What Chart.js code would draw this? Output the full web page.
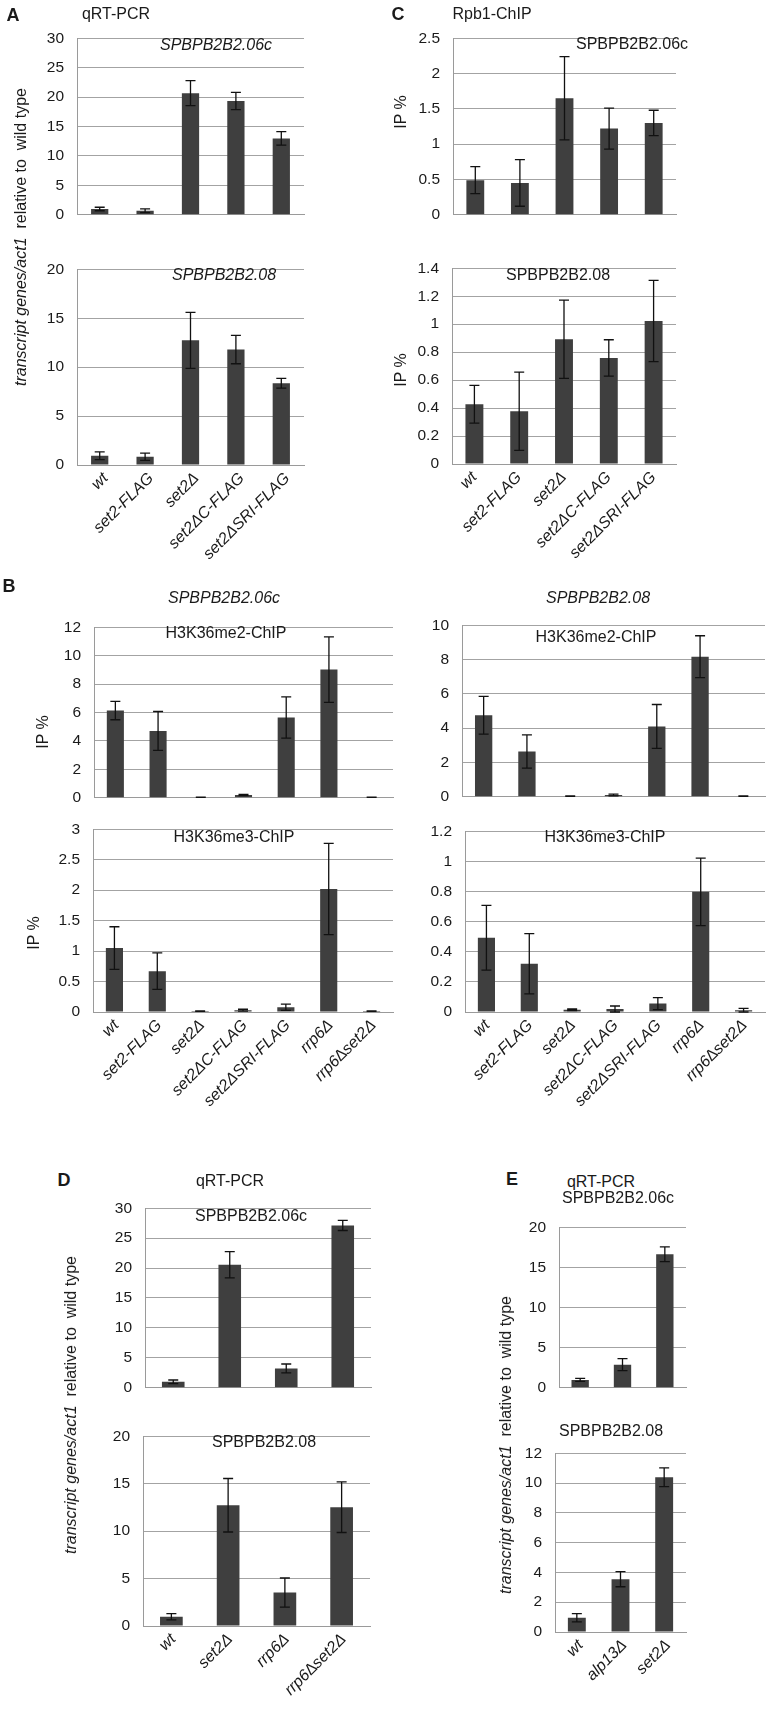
<!DOCTYPE html>
<html><head><meta charset="utf-8">
<script src="https://cdn.jsdelivr.net/npm/chart.js@4.4.0/dist/chart.umd.min.js"></script>
<style>
body{margin:0;background:#fff;}
#fig{position:relative;width:771px;height:1709px;overflow:hidden;font-family:'Liberation Sans',Arial,Helvetica,sans-serif;color:#1a1a1a;background:#fff;}
canvas{position:absolute;}
.t{position:absolute;transform:translate(-50%,-50%);white-space:pre;font-size:16px;line-height:1;z-index:3;}
.pl{font-weight:bold;font-size:18px;}
.it{font-style:italic;}
.v{transform:translate(-50%,-50%) rotate(-90deg);font-size:16px;}
</style></head><body><div id="fig">
<div class="t pl" style="left:13px;top:15px">A</div>
<div class="t" style="left:116px;top:14px">qRT-PCR</div>
<div class="t it" style="left:216px;top:45px">SPBPB2B2.06c</div>
<div class="t it" style="left:224px;top:275px">SPBPB2B2.08</div>
<div class="t v" style="left:21px;top:237px"><i>transcript genes/act1</i>  relative to  wild type</div>

<div class="t pl" style="left:398px;top:14px">C</div>
<div class="t" style="left:492px;top:14px">Rpb1-ChIP</div>
<div class="t" style="left:632px;top:44px">SPBPB2B2.06c</div>
<div class="t" style="left:558px;top:275px">SPBPB2B2.08</div>
<div class="t v" style="left:401px;top:112px">IP %</div>
<div class="t v" style="left:401px;top:370px">IP %</div>

<div class="t pl" style="left:9px;top:586px">B</div>
<div class="t it" style="left:224px;top:598px">SPBPB2B2.06c</div>
<div class="t it" style="left:598px;top:598px">SPBPB2B2.08</div>
<div class="t" style="left:226px;top:633px">H3K36me2-ChIP</div>
<div class="t" style="left:596px;top:637px">H3K36me2-ChIP</div>
<div class="t" style="left:234px;top:837px">H3K36me3-ChIP</div>
<div class="t" style="left:605px;top:837px">H3K36me3-ChIP</div>
<div class="t v" style="left:43px;top:732px">IP %</div>
<div class="t v" style="left:34px;top:933px">IP %</div>

<div class="t pl" style="left:64px;top:1180px">D</div>
<div class="t" style="left:230px;top:1181px">qRT-PCR</div>
<div class="t" style="left:251px;top:1216px">SPBPB2B2.06c</div>
<div class="t" style="left:264px;top:1442px">SPBPB2B2.08</div>
<div class="t v" style="left:71px;top:1405px"><i>transcript genes/act1</i>  relative to  wild type</div>

<div class="t pl" style="left:512px;top:1179px">E</div>
<div class="t" style="left:601px;top:1182px">qRT-PCR</div>
<div class="t" style="left:618px;top:1198px">SPBPB2B2.06c</div>
<div class="t" style="left:611px;top:1431px">SPBPB2B2.08</div>
<div class="t v" style="left:506px;top:1445px"><i>transcript genes/act1</i>  relative to  wild type</div>
</div>
<script>
// ---------- categories ----------
const catsA = ['wt', 'set2-FLAG', 'set2Δ', 'set2ΔC-FLAG', 'set2ΔSRI-FLAG'];
const catsB = ['wt', 'set2-FLAG', 'set2Δ', 'set2ΔC-FLAG', 'set2ΔSRI-FLAG', 'rrp6Δ', 'rrp6∆set2Δ'];
const catsD = ['wt', 'set2Δ', 'rrp6Δ', 'rrp6∆set2Δ'];
const catsE = ['wt', 'alp13Δ', 'set2Δ'];

// ---------- values and error (SD) ----------
const valsA06 = [0.97, 0.67, 20.67, 19.33, 12.97];
const errA06  = [0.30, 0.31, 2.12, 1.46, 1.15];
const valsA08 = [0.94, 0.84, 12.74, 11.80, 8.36];
const errA08  = [0.40, 0.37, 2.86, 1.45, 0.50];

const valsC06 = [0.49, 0.45, 1.65, 1.22, 1.30];
const errC06  = [0.19, 0.33, 0.59, 0.29, 0.18];
const valsC08 = [0.427, 0.377, 0.893, 0.759, 1.023];
const errC08  = [0.135, 0.28, 0.28, 0.13, 0.29];

const valsBme2_06 = [6.14, 4.70, 0.03, 0.19, 5.65, 9.02, 0.03];
const errBme2_06  = [0.65, 1.37, 0.01, 0.05, 1.45, 2.30, 0.01];
const valsBme3_06 = [1.05, 0.67, 0.015, 0.03, 0.078, 2.02, 0.015];
const errBme3_06  = [0.35, 0.30, 0.005, 0.015, 0.05, 0.75, 0.005];
const valsBme2_08 = [4.75, 2.64, 0.03, 0.10, 4.10, 8.17, 0.03];
const errBme2_08  = [1.10, 0.97, 0.01, 0.05, 1.28, 1.22, 0.01];
const valsBme3_08 = [0.493, 0.32, 0.015, 0.02, 0.056, 0.798, 0.012];
const errBme3_08  = [0.215, 0.20, 0.005, 0.02, 0.04, 0.224, 0.012];

const valsD06 = [0.99, 20.56, 3.22, 27.14];
const errD06  = [0.30, 2.18, 0.74, 0.85];
const valsD08 = [0.97, 12.73, 3.53, 12.53];
const errD08  = [0.33, 2.82, 1.53, 2.67];

const valsE06 = [0.97, 2.87, 16.64];
const errE06  = [0.19, 0.75, 0.93];
const valsE08 = [0.96, 3.55, 10.39];
const errE08  = [0.28, 0.51, 0.63];

// ---------- y tick labels ----------
const ticks30 = [0, 5, 10, 15, 20, 25, 30];
const ticks20 = [0, 5, 10, 15, 20];
const ticks25 = [0, 0.5, 1, 1.5, 2, 2.5];
const ticks14 = [0, 0.2, 0.4, 0.6, 0.8, 1, 1.2, 1.4];
const ticks12 = [0, 2, 4, 6, 8, 10, 12];
const ticks10 = [0, 2, 4, 6, 8, 10];
const ticks3  = [0, 0.5, 1, 1.5, 2, 2.5, 3];
const ticks12s = [0, 0.2, 0.4, 0.6, 0.8, 1, 1.2];
const ticks12E = [0, 2, 4, 6, 8, 10, 12];

// ---------- layout (plot rectangles: left, top, right, bottom) ----------
const panels = [
  {rect:[77,28,304,223],  cats:catsA, vals:valsA06, errs:errA06, ticks:ticks30, showX:false, bp:0.38, lo:6},
  {rect:[77,259,304,465], cats:catsA, vals:valsA08, errs:errA08, ticks:ticks20, showX:true,  bp:0.38, lo:6},
  {rect:[453,28,676,223], cats:catsA, vals:valsC06, errs:errC06, ticks:ticks25, showX:false, bp:0.40, lo:0},
  {rect:[452,258,676,464],cats:catsA, vals:valsC08, errs:errC08, ticks:ticks14, showX:true,  bp:0.40, lo:0},
  {rect:[94,617,393,806], cats:catsB, vals:valsBme2_06, errs:errBme2_06, ticks:ticks12, showX:false, bp:0.40, lo:2},
  {rect:[93,819,393,1012],cats:catsB, vals:valsBme3_06, errs:errBme3_06, ticks:ticks3,  showX:true,  bp:0.40, lo:2},
  {rect:[462,615,765,805],cats:catsB, vals:valsBme2_08, errs:errBme2_08, ticks:ticks10, showX:false, bp:0.40, lo:1},
  {rect:[465,821,765,1012],cats:catsB,vals:valsBme3_08, errs:errBme3_08, ticks:ticks12s, showX:true, bp:0.40, lo:1},
  {rect:[145,1198,371,1396],cats:catsD, vals:valsD06, errs:errD06, ticks:ticks30, showX:false, bp:0.40, lo:2},
  {rect:[143,1426,370,1626],cats:catsD, vals:valsD08, errs:errD08, ticks:ticks20, showX:true,  bp:0.40, lo:2},
  {rect:[559,1217,686,1396],cats:catsE, vals:valsE06, errs:errE06, ticks:ticks20, showX:false, bp:0.41, lo:4},
  {rect:[555,1443,686,1632],cats:catsE, vals:valsE08, errs:errE08, ticks:ticks12E, showX:true, bp:0.41, lo:4}
];

const FONT = "'Liberation Sans', Arial, Helvetica, sans-serif";
Chart.defaults.font.family = FONT;

const errorBars = {
  id: 'errorBars',
  afterDatasetsDraw(chart) {
    const ds = chart.data.datasets[0];
    const meta = chart.getDatasetMeta(0);
    const y = chart.scales.y;
    const ctx = chart.ctx;
    ctx.save();
    ctx.strokeStyle = '#111';
    ctx.lineWidth = 1.3;
    meta.data.forEach((bar, i) => {
      const v = ds.data[i], e = ds.errors[i];
      const yh = y.getPixelForValue(v + e), yl = y.getPixelForValue(v - e);
      const cw = 5;
      ctx.beginPath();
      ctx.moveTo(bar.x, yh); ctx.lineTo(bar.x, yl);
      ctx.moveTo(bar.x - cw, yh); ctx.lineTo(bar.x + cw, yh);
      ctx.moveTo(bar.x - cw, yl); ctx.lineTo(bar.x + cw, yl);
      ctx.stroke();
    });
    ctx.restore();
  }
};

const fig = document.getElementById('fig');
panels.forEach(p => {
  const padL = 70, padR = 12, padT = 12;
  const padB = p.showX ? 120 : 14;
  const [L, T, R, B] = p.rect;
  const w = R - L + padL + padR, h = B - T + padT + padB;
  const cv = document.createElement('canvas');
  cv.width = w; cv.height = h;
  cv.style.left = (L - padL) + 'px'; cv.style.top = (T - padT) + 'px';
  cv.style.width = w + 'px'; cv.style.height = h + 'px';
  fig.insertBefore(cv, fig.firstChild);
  const tk = p.ticks;
  new Chart(cv, {
    type: 'bar',
    data: {
      labels: p.cats,
      datasets: [{
        data: p.vals, errors: p.errs,
        backgroundColor: '#3f3f3f', borderWidth: 0,
        barPercentage: p.bp, categoryPercentage: 1
      }]
    },
    options: {
      responsive: false, animation: false, devicePixelRatio: 1,
      layout: {padding: {left: 0, right: padR, top: padT, bottom: 0}},
      plugins: {legend: {display: false}, tooltip: {enabled: false}, title: {display: false}},
      scales: {
        x: {
          grid: {display: false, drawTicks: false},
          border: {color: '#9a9a9a', width: 1},
          ticks: {display: p.showX, minRotation: 45, maxRotation: 45, autoSkip: false, padding: 4,
                  labelOffset: p.lo,
                  color: '#1a1a1a', font: {size: 16, style: 'italic', family: FONT}},
          afterFit(s) { s.height = padB; }
        },
        y: {
          min: tk[0], max: tk[tk.length - 1],
          ticks: {stepSize: tk[1] - tk[0], padding: 13, color: '#1a1a1a',
                  font: {size: 15.5, family: FONT},
                  callback: (v) => String(Math.round(v * 1000) / 1000)},
          grid: {color: '#a3a3a3', lineWidth: 1, drawTicks: false},
          border: {color: '#9a9a9a', width: 1},
          afterFit(s) { s.width = padL; }
        }
      }
    },
    plugins: [errorBars]
  });
});
</script>
</body></html>
